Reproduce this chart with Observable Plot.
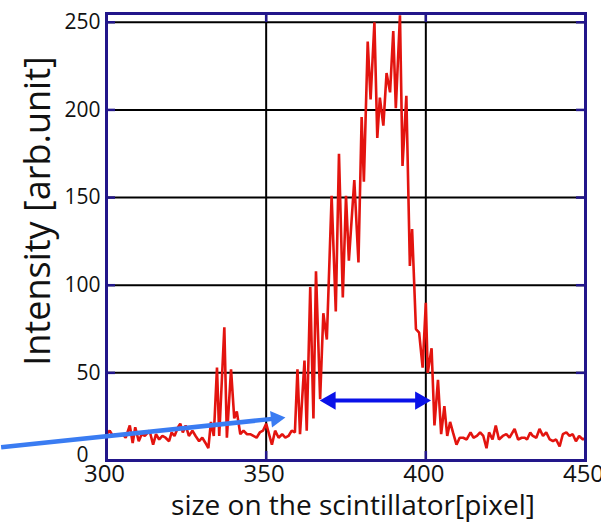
<!DOCTYPE html>
<html>
<head>
<meta charset="utf-8">
<script src="https://cdn.jsdelivr.net/npm/d3@7"></script>
<script src="https://cdn.jsdelivr.net/npm/@observablehq/plot@0.6"></script>
<style>
  html, body { margin: 0; padding: 0; background: #fff; overflow: hidden; }
</style>
</head>
<body>
<div id="chart"></div>
<script>
// ---- data ----
const pixelX = [300,301,302,303,304,305,306,307.3,308.2,309,310.1,311,312,313.5,314.6,315.5,316.5,317.5,318.5,319.6,320.4,321.3,322.4,323.1,323.9,324.8,325.8,326.9,327.9,329,330,331,331.9,332.7,333.6,334.6,335.3,336.9,337.7,339,340,340.8,341.9,342.9,344,345,346,347,348,349,350,351.8,352.8,353.9,355,356,357,358,359,359.8,360.6,362,362.7,363.8,364.8,365.6,366.9,367.9,369,370.5,371.8,372.8,374,375,375.9,377.6,378.9,379.9,380.6,381.8,382.7,383.9,384.8,385.6,386.7,387.7,388.8,389.8,390.6,391.9,392.7,393.9,395,395.7,396.9,397.9,399,400,400.6,401.8,402.7,403.8,404.8,405.8,406.7,407.6,408.5,409.6,410.6,411.7,412.8,414,414.9,416,417,418,419,419.8,420.9,421.9,422.9,424.1,425.2,426.2,427.8,428.9,430,431,431.7,432.7,433.5,434.6,435.6,436.7,437.7,438.8,439.8,440.8,441.9,442.9,444,445,446,447,448,449.2,450];
const intensity = [15,17,14,15,14,15,13,20,10,19,11,15,14,17,9,15,12,14,13,11,16,14,19,21,16,20,14,17,14,11,13,10,7,22,14,53,14,76,13,52,24,28,15,17,15,15,14,13,16,17,21,9,17,13,15,13,14,17,16,52,15,57,17,99,24,108,35,84,69,151,85,175,93,151,114,160,113,196,159,239,206,250,184,207,191,221,210,245,201,254,168,208,111,132,75,73,53,90,50,64,20,46,15,31,14,22,16,9,13,13,12,16,13,14,16,14,7,16,12,20,12,14,15,13,18,12,13,13,12,16,14,13,18,14,16,12,11,12,8,15,16,14,15,11,14,12,13];

const xTicks = [300, 350, 400, 450];
const yTicks = [50, 100, 150, 200, 250];
const yZeroTick = [0];
const xGrid = [350, 400];
const xDomain = [300, 450];
const yDomain = [0, 255];

const xTitle = "size on the scintillator[pixel]";
const yTitle = "Intensity [arb.unit]";

// annotation arrows (data units)
const pointerArrow = [{x1: 267, y1: 7.5, x2: 356, y2: 24.5}];
const widthArrow = [{x1: 366.8, x2: 401.6, y: 34.2}];

// ---- styles ----
const navy = "#22168a";
const red = "#e3140f";
const lightBlue = "#3a7cf2";
const darkBlue = "#0a12e8";
const font = "'Open Sans', 'Noto Sans', sans-serif";

const data = pixelX.map((x, i) => ({x, v: intensity[i]}));

const plot = Plot.plot({
  width: 601,
  height: 522,
  marginLeft: 106,
  marginRight: 16,
  marginTop: 13,
  marginBottom: 62,
  x: {domain: xDomain},
  y: {domain: yDomain},
  style: {fontFamily: font, background: "white", color: "#111"},
  marks: [
    Plot.gridY(yTicks, {stroke: "black", strokeOpacity: 1, strokeWidth: 2}),
    Plot.gridX(xGrid, {stroke: "black", strokeOpacity: 1, strokeWidth: 2}),
    // inward frame ticks
    Plot.tickY(yTicks, {y: d => d, stroke: navy, strokeWidth: 2.5, insetRight: 470}),
    Plot.tickY(yTicks, {y: d => d, stroke: navy, strokeWidth: 2.5, insetLeft: 470}),
    Plot.tickX(xGrid, {x: d => d, stroke: navy, strokeWidth: 2.5, insetBottom: 438}),
    Plot.tickX(xGrid, {x: d => d, stroke: navy, strokeWidth: 2.5, insetTop: 438}),
    Plot.line(data, {x: "x", y: "v", stroke: red, strokeWidth: 2.6, strokeLinejoin: "miter"}),
    Plot.frame({stroke: navy, strokeWidth: 3}),
    // axes
    Plot.axisY(yTicks, {tickSize: 0, tickPadding: 6, fontSize: 21, label: null}),
    Plot.axisY(yZeroTick, {tickSize: 0, tickPadding: 6, fontSize: 21, label: null, dx: -12, dy: -5}),
    Plot.axisX(xTicks, {tickSize: 0, tickPadding: 4, fontSize: 24, label: null, dx: -2}),
    Plot.text([yTitle], {frameAnchor: "left", textAnchor: "middle", rotate: -90, dx: -68, dy: -26, fontSize: 36, lineAnchor: "middle", fill: "#111"}),
    Plot.text([xTitle], {frameAnchor: "bottom", textAnchor: "middle", dx: 7, dy: 54, fontSize: 28, lineAnchor: "bottom", fill: "#111"}),
    // annotation arrows
    Plot.arrow(pointerArrow, {x1: "x1", y1: "y1", x2: "x2", y2: "y2", stroke: lightBlue, strokeWidth: 4.5, headLength: 0, insetEnd: 8, strokeLinecap: "butt"}),
    Plot.dot(pointerArrow, {x: "x2", y: "y2", symbol: "triangle", r: 6.2, fill: lightBlue, stroke: null, rotate: 83.5, dx: -9.5, dy: 1.1}),
    Plot.arrow(widthArrow, {x1: "x1", y1: "y", x2: "x2", y2: "y", stroke: darkBlue, strokeWidth: 4, headLength: 0, insetStart: 9, insetEnd: 9, strokeLinecap: "butt"}),
    Plot.dot(widthArrow, {x: "x2", y: "y", symbol: "triangle", r: 6.8, fill: darkBlue, stroke: null, rotate: 90, dx: -10.5}),
    Plot.dot(widthArrow, {x: "x1", y: "y", symbol: "triangle", r: 6.8, fill: darkBlue, stroke: null, rotate: -90, dx: 10.5})
  ]
});

document.getElementById("chart").appendChild(plot);
</script>
</body>
</html>
